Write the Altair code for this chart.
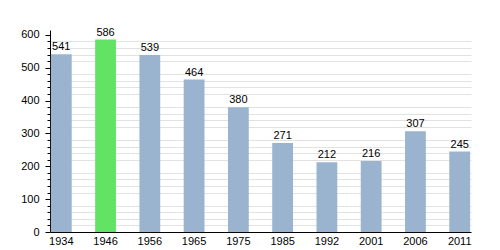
import altair as alt
import pandas as pd

years = ["1934", "1946", "1956", "1965", "1975", "1985", "1992", "2001", "2006", "2011"]
population = [541, 586, 539, 464, 380, 271, 212, 216, 307, 245]
highlight = [False, True, False, False, False, False, False, False, False, False]
major_ticks = [0, 100, 200, 300, 400, 500, 600]
minor_ticks = [v for v in range(0, 601, 20) if v % 100 != 0]

df = pd.DataFrame({"year": years, "pop": population, "hl": highlight})

x = alt.X("year:N", sort=years, title=None,
          scale=alt.Scale(paddingInner=0.53, paddingOuter=0.02),
          axis=alt.Axis(labelAngle=0, ticks=False, domainColor="black",
                        labelFont="Liberation Sans", labelFontSize=11,
                        labelColor="black", labelPadding=3, grid=False))

yscale = alt.Scale(domain=[0, 615], nice=False)

bars = alt.Chart(df).mark_bar().encode(
    x=x,
    y=alt.Y("pop:Q", scale=yscale, title=None,
            axis=alt.Axis(values=major_ticks, orient="left", tickSize=5,
                          tickColor="black", domainColor="black",
                          gridColor="#a8a8a8", labelFont="Liberation Sans",
                          labelFontSize=11, labelColor="black", labelPadding=6)),
    color=alt.Color("hl:N", scale=alt.Scale(domain=[False, True],
                                            range=["#9ab3cf", "#63e363"]),
                    legend=None),
)

minor = alt.Chart(df).mark_bar(opacity=0).encode(
    x=x,
    y=alt.Y("pop:Q", scale=yscale, title=None,
            axis=alt.Axis(values=minor_ticks, orient="left", tickSize=3,
                          tickColor="black", domain=False, labels=False,
                          gridColor="#e2e2e2")),
)

labels = alt.Chart(df).mark_text(dy=-7, font="Liberation Sans", fontSize=11,
                                 color="black").encode(
    x=alt.X("year:N", sort=years),
    y=alt.Y("pop:Q", scale=yscale, axis=None),
    text="pop:Q",
)

chart = alt.layer(minor, bars, labels).resolve_axis(y="independent").properties(
    width=421, height=202,
    autosize=alt.AutoSizeParams(type="none"),
    padding={"left": 50, "top": 30, "right": 29, "bottom": 18},
).configure_view(stroke=None)

chart.save("out.html", embed_options={"renderer": "svg", "actions": False})
